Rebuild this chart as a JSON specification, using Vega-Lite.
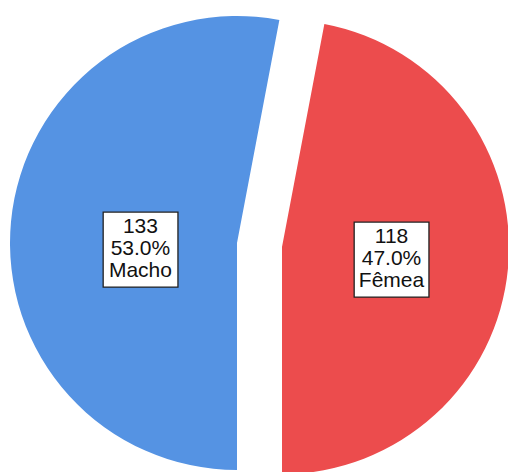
{
  "$schema": "https://vega.github.io/schema/vega-lite/v6.json",
  "width": 508,
  "height": 486,
  "padding": 0,
  "autosize": {"type": "none"},
  "background": "white",
  "view": {"stroke": null},
  "data": {
    "values": [
      {"sexo": "Macho", "n": 133, "pct": "53.0%", "lines": ["133", "53.0%", "Macho"]},
      {"sexo": "Fêmea", "n": 118, "pct": "47.0%", "lines": ["118", "47.0%", "Fêmea"]}
    ]
  },
  "encoding": {
    "theta": {"field": "n", "type": "quantitative", "stack": true, "scale": {"range": [3.14159265, 9.42477796]}},
    "order": {"field": "sexo", "sort": "descending"}
  },
  "layer": [
    {
      "mark": {
        "type": "arc",
        "outerRadius": 227,
        "xOffset": {"expr": "datum.sexo === 'Fêmea' ? 28 : -17"},
        "yOffset": {"expr": "datum.sexo === 'Fêmea' ? 4 : 0"}
      },
      "encoding": {
        "color": {"field": "sexo", "type": "nominal", "scale": {"domain": ["Macho", "Fêmea"], "range": ["#5593E3", "#EC4C4D"]}, "legend": null}
      }
    },
    {
      "mark": {
        "type": "text",
        "text": "■",
        "font": "DejaVu Sans",
        "fontSize": 98,
        "fill": "white",
        "stroke": "#222222",
        "strokeWidth": 1.3,
        "align": "center",
        "baseline": "middle",
        "radius": {"expr": "datum.sexo === 'Fêmea' ? 110 : 97"},
        "xOffset": {"expr": "datum.sexo === 'Fêmea' ? 28 : -17"},
        "yOffset": {"expr": "datum.sexo === 'Fêmea' ? 3 : 12"}
      }
    },
    {
      "mark": {
        "type": "text",
        "font": "Liberation Sans",
        "fontSize": 21,
        "lineHeight": 22,
        "color": "#111111",
        "align": "center",
        "baseline": "middle",
        "radius": {"expr": "datum.sexo === 'Fêmea' ? 110 : 97"},
        "xOffset": {"expr": "datum.sexo === 'Fêmea' ? 28 : -17"},
        "yOffset": {"expr": "datum.sexo === 'Fêmea' ? -16 : -7"}
      },
      "encoding": {"text": {"field": "lines"}}
    }
  ]
}
